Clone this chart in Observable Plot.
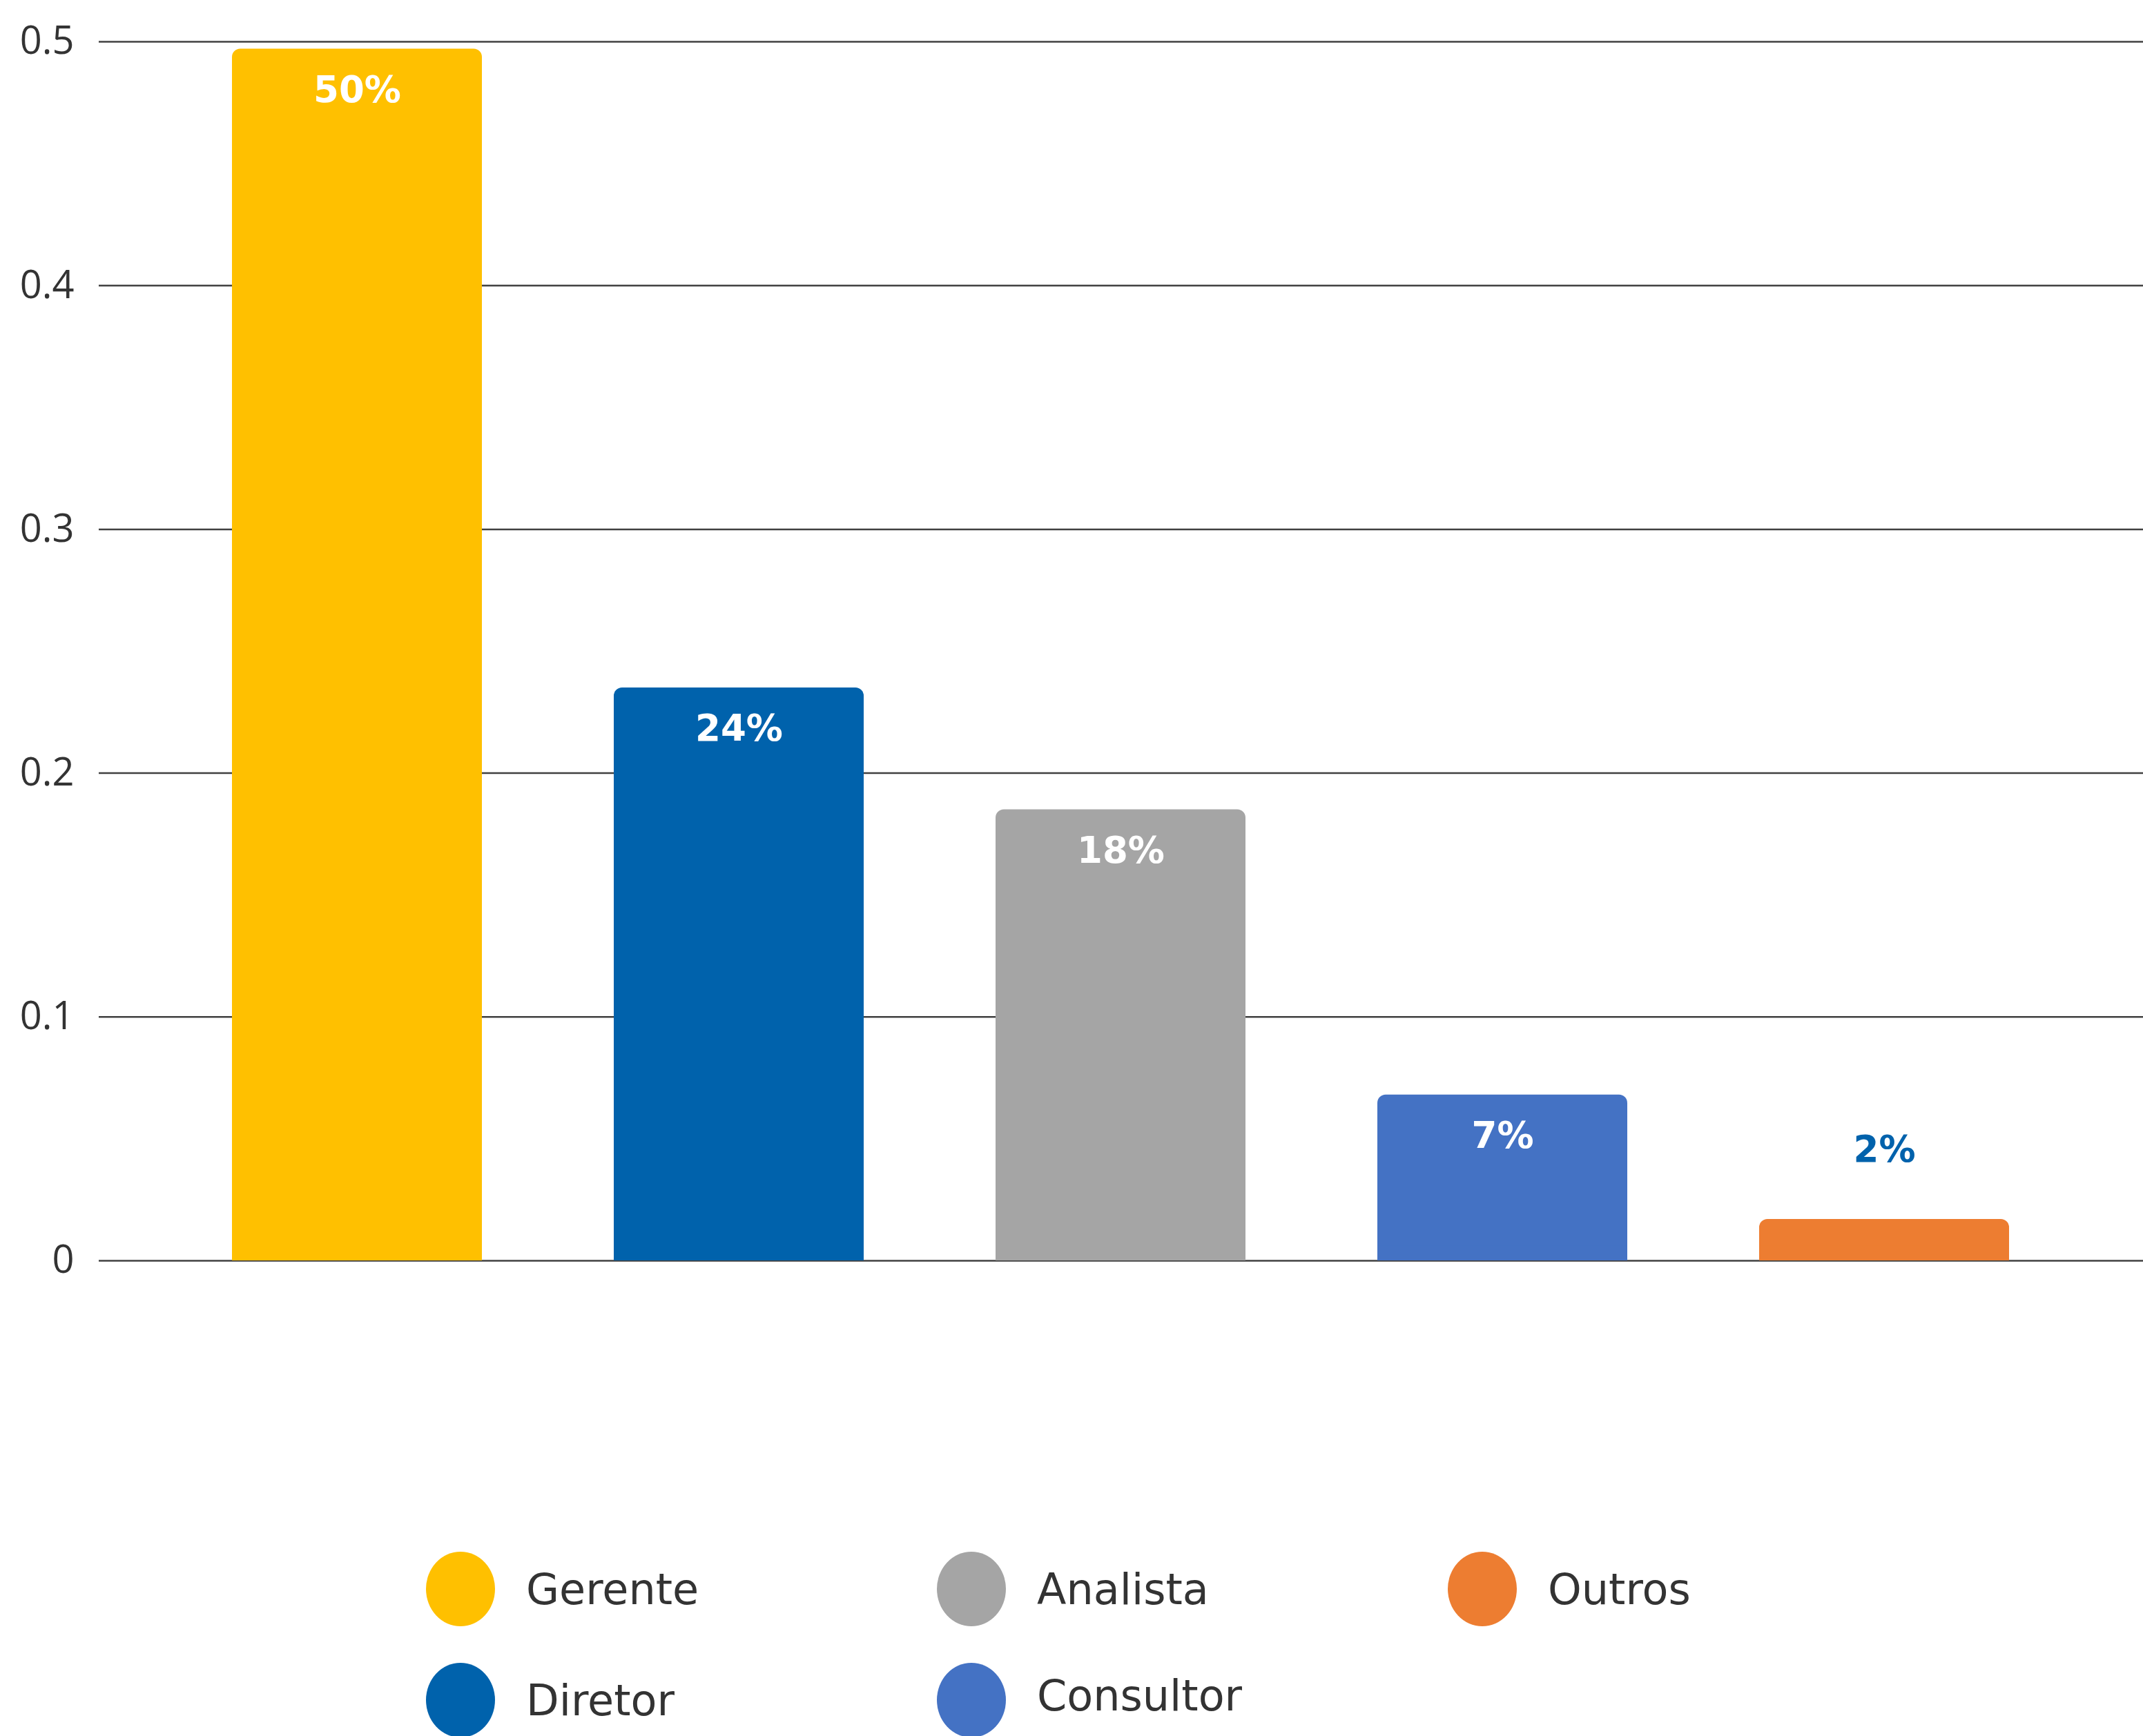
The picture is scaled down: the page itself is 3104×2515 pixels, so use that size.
<!DOCTYPE html>
<html>
<head>
<meta charset="utf-8">
<script src="https://cdn.jsdelivr.net/npm/d3@7"></script>
<script src="https://cdn.jsdelivr.net/npm/@observablehq/plot@0.6"></script>
<style>
  html, body { margin: 0; padding: 0; background: #fff; }
  #wrap { position: relative; width: 3104px; height: 2515px; }
  #legend { position: absolute; left: 0; top: 0; width: 3104px; height: 2515px; pointer-events: none; }
  .item { position: absolute; display: flex; align-items: center; height: 110px; }
  .sw { width: 100px; height: 108px; border-radius: 50%; flex: none; }
  .lab { margin-left: 45px; font-family: "DejaVu Sans", Verdana, sans-serif; font-size: 62px; color: #333; white-space: nowrap; }
</style>
</head>
<body>
<div id="wrap"><div id="chart"></div><div id="legend"></div></div>
<script>
const categories = ["Gerente", "Diretor", "Analista", "Consultor", "Outros"];
const values = [0.497, 0.235, 0.185, 0.068, 0.017];
const labels = ["50%", "24%", "18%", "7%", "2%"];
const colors = ["#FFC000", "#0062AC", "#A5A5A5", "#4472C4", "#ED7D31"];
const yTicks = [0, 0.1, 0.2, 0.3, 0.4, 0.5];
const yTickLabels = ["0", "0.1", "0.2", "0.3", "0.4", "0.5"];

const data = categories.map((c, i) => ({category: c, value: values[i], label: labels[i]}));
const inside = data.filter(d => d.value >= 0.05);
const outside = data.filter(d => d.value < 0.05);

const chart = Plot.plot({
  width: 3104,
  height: 1900,
  marginLeft: 143,
  marginRight: 0,
  marginTop: 60,
  marginBottom: 74,
  style: {background: "#fff", overflow: "visible"},
  x: {domain: categories, padding: 0.345, axis: null},
  y: {domain: [0, 0.5], axis: null},
  color: {domain: categories, range: colors},
  marks: [
    Plot.ruleY(yTicks, {stroke: "#404040", strokeWidth: 2.5, strokeOpacity: 1}),
    Plot.axisY(yTicks, {tickSize: 0, tickPadding: 36, label: null,
      tickFormat: (d) => yTickLabels[yTicks.indexOf(d)],
      fontSize: 56, fontFamily: "Open Sans, sans-serif", fill: "#333"}),
    Plot.barY(data, {x: "category", y: "value", fill: "category", rx: 12}),
    Plot.barY(data, {x: "category", y1: 0, y2: d => Math.min(d.value, 0.006), fill: "category"}),
    Plot.text(inside, {x: "category", y: "value", text: "label", dy: 60, fill: "#fff",
      fontSize: 53, fontWeight: "bold", fontFamily: "DejaVu Sans, Verdana, sans-serif", textAnchor: "middle", lineAnchor: "middle"}),
    Plot.text(outside, {x: "category", y: "value", text: "label", dy: -100, fill: "#0062AC",
      fontSize: 53, fontWeight: "bold", fontFamily: "DejaVu Sans, Verdana, sans-serif", textAnchor: "middle", lineAnchor: "middle"})
  ]
});
document.getElementById("chart").appendChild(chart);

const legend = document.getElementById("legend");
categories.forEach((c, i) => {
  const col = Math.floor(i / 2), row = i % 2;
  const it = document.createElement("div");
  it.className = "item";
  it.style.left = (617 + col * 740) + "px";
  it.style.top = (2247 + row * 161) + "px";
  const shift = i === 3 ? "position:relative;top:-7px;" : "";
  it.innerHTML = `<div class="sw" style="background:${colors[i]}"></div><div class="lab" style="${shift}">${c}</div>`;
  legend.appendChild(it);
});
</script>
</body>
</html>
